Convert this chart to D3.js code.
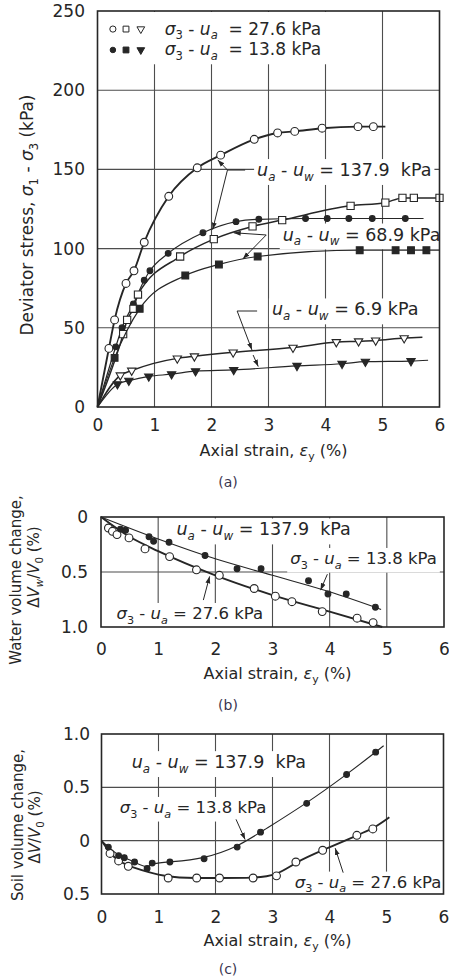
<!DOCTYPE html>
<html>
<head>
<meta charset="utf-8">
<script src="https://cdn.jsdelivr.net/npm/d3@7"></script>
<style>
  body { margin: 0; background: #fff; }
  svg { display: block; font-family: "DejaVu Sans", sans-serif; }
</style>
</head>
<body>
<div id="chart"></div>
<script>
// strain axis, shared by the three panels (%)
const strainTicks = [0, 1, 2, 3, 4, 5, 6];

// (a) deviator stress (kPa) against axial strain (%)
const stressTicks = [0, 50, 100, 150, 200, 250];
const stressCircleOpen = [[0.2, 37], [0.3, 55], [0.5, 78], [0.64, 86], [0.82, 104], [1.25, 133], [1.75, 151], [2.16, 159], [2.75, 169], [3.16, 173], [3.46, 174], [3.94, 176], [4.57, 177], [4.84, 177]];
const stressCircleFilled = [[0.32, 38], [0.43, 50], [0.63, 65], [0.82, 80], [0.92, 86], [1.24, 97], [1.85, 110], [2.43, 117], [2.83, 118.5], [3.65, 119], [4.03, 119], [4.41, 119], [4.82, 119], [5.4, 119]];
const stressSquareOpen = [[0.45, 46], [0.52, 55], [0.63, 62], [0.71, 71], [1.45, 95], [2.04, 106], [2.72, 114], [3.24, 118], [4.44, 127], [5.05, 129], [5.35, 132], [5.55, 132], [6.0, 132]];
const stressSquareFilled = [[0.3, 31], [0.74, 62], [1.54, 83], [2.13, 90], [2.81, 95], [4.6, 99], [5.23, 99], [5.5, 99], [5.77, 99]];
const stressTriOpen = [[0.4, 20], [0.6, 23], [1.4, 30.7], [1.7, 32], [2.38, 34.5], [3.43, 37.5], [4.19, 41], [4.58, 41.5], [4.88, 42], [5.38, 43.5]];
const stressTriFilled = [[0.35, 14.4], [0.55, 16.6], [0.9, 19.3], [1.3, 20.7], [1.72, 22.6], [2.39, 23.4], [3.5, 26], [4.29, 27.3], [4.7, 28.6], [5.5, 29]];
// where each drawn curve stops
const stressLineEnds = [[5.05, 177], [5.72, 119], [6.0, 132], [6.0, 99], [5.7, 44], [5.8, 29.5]];

// (b) water volume change (%)
const waterTicks = [0, 0.5, 1.0];
const waterOpen = [[0.13, 0.1], [0.2, 0.13], [0.28, 0.16], [0.49, 0.19], [0.77, 0.29], [1.2, 0.36], [1.67, 0.48], [2.07, 0.53], [2.68, 0.65], [3.05, 0.72], [3.34, 0.77], [3.87, 0.86], [4.48, 0.92], [4.76, 0.96]];
const waterFilled = [[0.34, 0.11], [0.43, 0.12], [0.84, 0.18], [0.92, 0.22], [1.19, 0.23], [1.82, 0.35], [2.38, 0.47], [2.8, 0.47], [3.63, 0.58], [3.97, 0.7], [4.29, 0.7], [4.8, 0.82]];
const waterOpenFit = [[0, 0], [0.5, 0.18], [1, 0.31], [2, 0.53], [3, 0.71], [4, 0.86], [4.92, 1.0]];
const waterFilledFit = [[0, 0], [1, 0.2], [2, 0.38], [3, 0.53], [4, 0.68], [4.9, 0.84]];

// (c) soil volume change (%), compression negative
const soilTicks = [-0.5, 0, 0.5, 1.0];
const soilOpen = [[0.15, -0.12], [0.3, -0.19], [0.47, -0.24], [1.17, -0.35], [1.67, -0.35], [2.07, -0.35], [2.66, -0.35], [3.07, -0.33], [3.41, -0.2], [3.88, -0.09], [4.48, 0.05], [4.76, 0.11]];
const soilFilled = [[0.12, -0.06], [0.3, -0.14], [0.4, -0.16], [0.58, -0.2], [0.8, -0.26], [0.89, -0.21], [1.2, -0.2], [1.8, -0.17], [2.38, -0.06], [2.79, 0.08], [3.6, 0.35], [4.3, 0.62], [4.81, 0.83]];
const soilLineEnds = [[5.05, 0.22], [4.95, 0.89]];

const ink = '#262626';
const gridInk = '#4d4d4d';

// label texts: [string, flags]  i = italic, s = subscript
const lblNet = (v, gap) => [['σ', 'i'], ['3', 's'], [' - '], ['u', 'i'], ['a', 'is'], [gap + '= ' + v + ' kPa']];
const lblSuction = v => [['u', 'i'], ['a', 'is'], [' - '], ['u', 'i'], ['w', 'is'], [' = ' + v]];
const strainTitle = [['Axial strain, '], ['ε', 'i'], ['y', 's'], [' (%)']];

const svg = d3.select('#chart').append('svg')
  .attr('width', 449)
  .attr('height', 980);

svg.append('defs').append('marker')
  .attr('id', 'arrow')
  .attr('viewBox', '0 0 10 10')
  .attr('refX', 10)
  .attr('refY', 5)
  .attr('markerWidth', 7)
  .attr('markerHeight', 7)
  .attr('orient', 'auto')
  .append('path')
  .attr('d', 'M0,1.5 L10,5 L0,8.5 z')
  .attr('fill', ink);

// text with italic / subscript pieces
function rich(sel, px, py, parts, size) {
  const t = sel.append('text')
    .attr('x', px)
    .attr('y', py)
    .attr('font-size', size)
    .attr('fill', ink)
    .style('white-space', 'pre');
  let low = false;
  parts.forEach(([str, f = '']) => {
    const sub = f.includes('s');
    const ts = t.append('tspan').text(str);
    if (f.includes('i')) ts.attr('font-style', 'italic');
    if (sub) ts.attr('font-size', size * 0.68);
    if (sub && !low) { ts.attr('dy', size * 0.28); low = true; }
    if (!sub && low) { ts.attr('dy', -size * 0.28); low = false; }
  });
  return t;
}

function makePanel(opt) {
  const x = d3.scaleLinear().domain([0, 6]).range(opt.xRange);
  const y = d3.scaleLinear().domain(opt.yDomain).range(opt.yRange);
  const top = Math.min(...opt.yRange), bottom = Math.max(...opt.yRange);
  const left = opt.xRange[0], right = opt.xRange[1];

  const g = svg.append('g');
  const grid = g.append('g');
  const mask = g.append('g');
  const plot = g.append('g');
  const notes = g.append('g');

  // gridlines on the inner ticks
  grid.selectAll('.gx')
    .data(strainTicks.slice(1, -1))
    .join('line')
    .attr('x1', d => x(d)).attr('x2', d => x(d))
    .attr('y1', top).attr('y2', bottom)
    .attr('stroke', gridInk).attr('stroke-width', 1.1);
  grid.selectAll('.gy')
    .data(opt.yTicks.filter(d => y(d) > top + 1 && y(d) < bottom - 1))
    .join('line')
    .attr('x1', left).attr('x2', right)
    .attr('y1', d => y(d)).attr('y2', d => y(d))
    .attr('stroke', gridInk).attr('stroke-width', 1.1);

  g.append('rect')
    .attr('x', left).attr('y', top)
    .attr('width', right - left).attr('height', bottom - top)
    .attr('fill', 'none').attr('stroke', ink).attr('stroke-width', 1.6);

  const xAxis = g.append('g')
    .attr('transform', `translate(0,${bottom})`)
    .call(d3.axisBottom(x).tickValues(strainTicks).tickSize(0).tickPadding(opt.xPad).tickFormat(d3.format('d')));
  const yAxis = g.append('g')
    .attr('transform', `translate(${left},0)`)
    .call(d3.axisLeft(y).tickValues(opt.yTicks).tickSize(0).tickPadding(opt.yPad).tickFormat(opt.fmt));
  [xAxis, yAxis].forEach(a => {
    a.select('.domain').remove();
    a.attr('font-family', null).attr('font-size', 17);
    a.selectAll('text').attr('fill', ink);
  });

  // axis title and panel letter
  rich(notes, (left + right) / 2 + 5, opt.titleY, strainTitle, 16).attr('text-anchor', 'middle');
  notes.append('text')
    .attr('x', 228).attr('y', opt.letterY)
    .attr('text-anchor', 'middle')
    .attr('font-size', 14)
    .attr('fill', '#3a3550')
    .text(opt.letter);

  return { x, y, plot, notes, mask };
}

function drawSeries(p, s) {
  const line = d3.line()
    .x(d => p.x(d[0]))
    .y(d => p.y(d[1]))
    .curve(s.curve);
  p.plot.append('path')
    .datum(s.line)
    .attr('d', line)
    .attr('fill', 'none')
    .attr('stroke', ink)
    .attr('stroke-width', s.w);
  p.plot.append('g').selectAll('path')
    .data(s.pts)
    .join('path')
    .attr('transform', d => `translate(${p.x(d[0])},${p.y(d[1])})${s.down ? ' rotate(180)' : ''}`)
    .attr('d', d3.symbol(s.sym, s.size)())
    .attr('fill', s.filled ? ink : '#fff')
    .attr('stroke', ink)
    .attr('stroke-width', 1.1);
}

function note(p, xv, yv, parts, size) {
  const t = rich(p.notes, p.x(xv), p.y(yv), parts, size);
  const b = t.node().getBBox();
  p.mask.append('rect')
    .attr('x', b.x - 3).attr('y', b.y - 1)
    .attr('width', b.width + 6).attr('height', b.height + 2)
    .attr('fill', '#fff');
  return t;
}

function leader(p, x1, y1, x2, y2, arrow) {
  const l = p.notes.append('line')
    .attr('x1', p.x(x1)).attr('y1', p.y(y1))
    .attr('x2', p.x(x2)).attr('y2', p.y(y2))
    .attr('stroke', ink).attr('stroke-width', 1);
  if (arrow) l.attr('marker-end', 'url(#arrow)');
}

const open = d3.symbolCircle, square = d3.symbolSquare, tri = d3.symbolTriangle;

// ---------- (a) ----------
const pa = makePanel({
  xRange: [97.5, 439.5], yDomain: [0, 250], yRange: [407, 11],
  yTicks: stressTicks, fmt: d3.format('d'),
  xPad: 12, yPad: 12.5, titleY: 456, letterY: 487, letter: '(a)'
});

const stressSeries = [
  { pts: stressCircleOpen, end: stressLineEnds[0], sym: open, size: 48, filled: false, w: 1.9 },
  { pts: stressCircleFilled, end: stressLineEnds[1], sym: open, size: 26, filled: true, w: 1.2 },
  { pts: stressSquareOpen, end: stressLineEnds[2], sym: square, size: 52, filled: false, w: 1.5 },
  { pts: stressSquareFilled, end: stressLineEnds[3], sym: square, size: 46, filled: true, w: 1.2 },
  { pts: stressTriOpen, end: stressLineEnds[4], sym: tri, size: 30, filled: false, w: 1.5, down: true },
  { pts: stressTriFilled, end: stressLineEnds[5], sym: tri, size: 30, filled: true, w: 1.2, down: true }
];
stressSeries.forEach(s => {
  drawSeries(pa, Object.assign({ line: [[0, 0], ...s.pts, s.end], curve: d3.curveMonotoneX }, s));
});

// legend
pa.mask.append('rect')
  .attr('x', pa.x(0) + 1).attr('y', pa.y(250) + 1)
  .attr('width', pa.x(4.08) - pa.x(0)).attr('height', pa.y(217) - pa.y(250))
  .attr('fill', '#fff');
[{ parts: lblNet('27.6', '  '), filled: false, yv: 238.6 }, { parts: lblNet('13.8', '  '), filled: true, yv: 225.4 }].forEach(r => {
  [[0.27, open, r.filled ? 24 : 30], [0.5, square, 34], [0.76, tri, 26]].forEach(([xv, sym, size]) => {
    pa.notes.append('path')
      .attr('transform', `translate(${pa.x(xv)},${pa.y(r.yv)})${sym === tri ? ' rotate(180)' : ''}`)
      .attr('d', d3.symbol(sym, size)())
      .attr('fill', r.filled ? ink : '#fff')
      .attr('stroke', ink)
      .attr('stroke-width', 1);
  });
  rich(pa.notes, pa.x(1.18), pa.y(r.yv) + 5.5, r.parts, 17);
});

note(pa, 2.8, 145.8, lblSuction('137.9  kPa'), 17.5);
leader(pa, 2.28, 149.6, 2.59, 149.6);
leader(pa, 2.28, 149.6, 2.11, 156, true);
leader(pa, 2.28, 149.6, 2.02, 112, true);

note(pa, 3.25, 105.1, lblSuction('68.9 kPa'), 17.5);
leader(pa, 2.96, 108.6, 2.39, 110, true);
leader(pa, 2.96, 108.6, 2.55, 93.5, true);

note(pa, 3.06, 57.8, lblSuction('6.9 kPa'), 17.5);
leader(pa, 2.8, 60.6, 2.45, 60.6);
leader(pa, 2.45, 60.6, 2.71, 36, true);
leader(pa, 2.73, 32.8, 2.82, 25.5, true);

// y title (a)
rich(pa.notes, 0, 0, [['Deviator stress, '], ['σ', 'i'], ['1', 's'], [' - '], ['σ', 'i'], ['3', 's'], [' (kPa)']], 17)
  .attr('text-anchor', 'middle')
  .attr('transform', 'translate(33,215) rotate(-90)');

// ---------- (b) ----------
const pb = makePanel({
  xRange: [101, 444], yDomain: [0, 1], yRange: [517, 627],
  yTicks: waterTicks, fmt: d => d === 0 ? '0' : d.toFixed(1),
  xPad: 16, yPad: 13, titleY: 679, letterY: 710, letter: '(b)'
});
drawSeries(pb, { pts: waterOpen, line: waterOpenFit, curve: d3.curveMonotoneX, sym: open, size: 48, filled: false, w: 1.9 });
drawSeries(pb, { pts: waterFilled, line: waterFilledFit, curve: d3.curveMonotoneX, sym: open, size: 26, filled: true, w: 1.1 });

note(pb, 1.32, 0.168, lblSuction('137.9  kPa'), 17.5);
note(pb, 3.31, 0.427, lblNet('13.8', ' '), 16.5);
leader(pb, 3.96, 0.52, 3.84, 0.665, true);
note(pb, 0.27, 0.927, lblNet('27.6', ' '), 16.5);
leader(pb, 1.79, 0.755, 1.9, 0.54, true);

rich(pb.notes, 0, 0, [['Water volume change,']], 15)
  .attr('text-anchor', 'middle')
  .attr('transform', 'translate(21,580) rotate(-90)');
rich(pb.notes, 0, 0, [['Δ'], ['V', 'i'], ['w', 'is'], ['/'], ['V', 'i'], ['0', 's'], [' (%)']], 15)
  .attr('text-anchor', 'middle')
  .attr('transform', 'translate(39,567) rotate(-90)');

// ---------- (c) ----------
const pc = makePanel({
  xRange: [101.5, 443.5], yDomain: [-0.5, 1], yRange: [894, 734],
  yTicks: soilTicks, fmt: d => d === 0 ? '0' : Math.abs(d).toFixed(1),
  xPad: 17, yPad: 11.5, titleY: 946, letterY: 974, letter: '(c)'
});
drawSeries(pc, { pts: soilOpen, line: [[0, 0], ...soilOpen, soilLineEnds[0]], curve: d3.curveBasis, sym: open, size: 48, filled: false, w: 1.9 });
drawSeries(pc, { pts: soilFilled, line: [[0, 0], ...soilFilled, soilLineEnds[1]], curve: d3.curveBasis, sym: open, size: 26, filled: true, w: 1.1 });

note(pc, 0.53, 0.68, lblSuction('137.9  kPa'), 17.5);
note(pc, 0.32, 0.26, lblNet('13.8', ' '), 16.5);
leader(pc, 2.36, 0.2, 2.52, 0.01, true);
note(pc, 3.39, -0.44, lblNet('27.6', ' '), 16.5);
leader(pc, 4.24, -0.3, 4.1, -0.07, true);

rich(pc.notes, 0, 0, [['Soil volume change,']], 15)
  .attr('text-anchor', 'middle')
  .attr('transform', 'translate(23,825) rotate(-90)');
rich(pc.notes, 0, 0, [['Δ'], ['V', 'i'], ['/'], ['V', 'i'], ['0', 's'], [' (%)']], 15)
  .attr('text-anchor', 'middle')
  .attr('transform', 'translate(40,827) rotate(-90)');
</script>
</body>
</html>
